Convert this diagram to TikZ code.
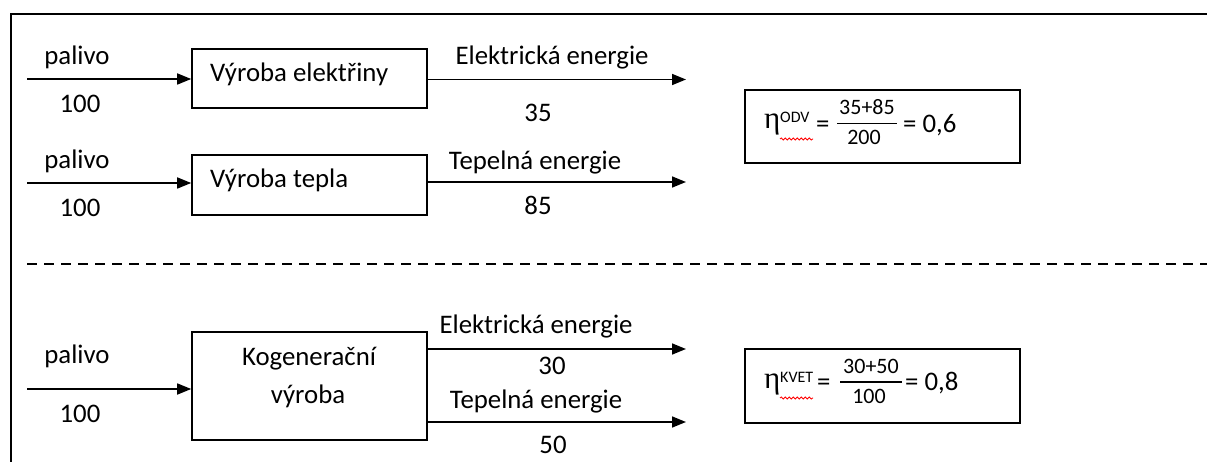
\documentclass[tikz,border=0pt]{standalone}
\usepackage{fontspec}
\setmainfont{Carlito}
\newfontfamily\etafont{Liberation Serif}
\usetikzlibrary{arrows.meta,decorations.pathmorphing}
\begin{document}
\begin{tikzpicture}[x=1pt,y=-1pt,
  txt/.style={inner sep=0pt, font=\fontsize{26.8}{31}\selectfont},
  fr/.style={inner sep=0pt, font=\fontsize{22}{26}\selectfont},
  supx/.style={inner sep=0pt, font=\fontsize{16}{19}\selectfont},
  etas/.style={inner sep=0pt, font=\etafont\fontsize{31}{36}\selectfont},
  box/.style={draw, line width=1.6pt, inner sep=0pt},
  eqbox/.style={draw, line width=2pt, inner sep=0pt},
  arr/.style={line width=1.6pt, -{Triangle[length=14pt,width=11pt]}},
  frameline/.style={line width=2pt},
  sepline/.style={line width=2pt, dash pattern=on 10pt off 7pt},
  wavy/.style={red, line width=0.8pt, decorate, decoration={snake, amplitude=1.1pt, segment length=4pt}}
]
\useasboundingbox (0,0) rectangle (1207,462);
% frame
\draw[frameline] (11,462) -- (11,14) -- (1207,14);
% separator
\coordinate (d1) at (27,264);
\coordinate (d2) at (1207,264);
\draw[sepline] (d1) -- (d2);

% ---- row 1
\node[box, minimum width=235pt, minimum height=59pt] (b1) at (309.5,78.5) {};
\node[txt, anchor=base west] (b1t) at (210,82) {Výroba elektřiny};
\coordinate (s1) at (27,79);
\draw[arr] (s1) -- (s1 -| b1.west);
\node[txt, anchor=base] (p1) at (77,65) {palivo};
\node[txt, anchor=base] (n1) at (80,113) {100};
\coordinate (e1) at (686,79.5);
\draw[arr] (e1 -| b1.east) -- (e1);
\node[txt, anchor=base] (l1) at (552,65) {Elektrická energie};
\node[txt, anchor=base] (v1) at (538,122) {35};

% ---- row 2
\node[box, minimum width=235pt, minimum height=60pt] (b2) at (309.5,185) {};
\node[txt, anchor=base west] (b2t) at (210,188) {Výroba tepla};
\coordinate (s2) at (27,183);
\draw[arr] (s2) -- (s2 -| b2.west);
\node[txt, anchor=base] (p2) at (77,169) {palivo};
\node[txt, anchor=base] (n2) at (80,217) {100};
\coordinate (e2) at (686,182);
\draw[arr] (e2 -| b2.east) -- (e2);
\node[txt, anchor=base] (l2) at (535,170) {Tepelná energie};
\node[txt, anchor=base] (v2) at (538,215) {85};

% ---- cogeneration
\node[box, minimum width=235pt, minimum height=108pt] (b3) at (309.5,386) {};
\node[txt, anchor=base] (b3t1) at (309,365) {Kogenerační};
\node[txt, anchor=base] (b3t2) at (308,403) {výroba};
\coordinate (s3) at (27,389);
\draw[arr] (s3) -- (s3 -| b3.west);
\node[txt, anchor=base] (p3) at (77,363) {palivo};
\node[txt, anchor=base] (n3) at (80,422) {100};
\coordinate (e3a) at (686,349);
\coordinate (e3b) at (686,422);
\draw[arr] (e3a -| b3.east) -- (e3a);
\draw[arr] (e3b -| b3.east) -- (e3b);
\node[txt, anchor=base] (l3) at (536,333) {Elektrická energie};
\node[txt, anchor=base] (v3) at (552,374) {30};
\node[txt, anchor=base] (l4) at (536,408) {Tepelná energie};
\node[txt, anchor=base] (v4) at (553,453) {50};

% ---- equation 1
\node[eqbox, minimum width=275pt, minimum height=73pt] (eb1) at (882.5,126.5) {};
\node[etas, anchor=base west] (eta1) at (764,129) {η};
\node[supx, anchor=base west] (sup1) at (780,123) {ODV};
\draw[wavy] (780,139) -- (813,139);
\node[txt, anchor=base west] (eq1a) at (816,133) {=};
\node[fr, anchor=base] (num1) at (867,115) {35+85};
\draw[line width=1.3pt] (837,123.5) -- (897,123.5);
\node[fr, anchor=base] (den1) at (864,145) {200};
\node[txt, anchor=base west] (res1) at (903,133) {= 0,6};

% ---- equation 2
\node[eqbox, minimum width=275pt, minimum height=74pt] (eb2) at (882.5,386) {};
\node[etas, anchor=base west] (eta2) at (764,388) {η};
\node[supx, anchor=base west] (sup2) at (780,382) {KVET};
\draw[wavy] (780,398) -- (813,398);
\node[txt, anchor=base west] (eq2a) at (817,390) {=};
\node[fr, anchor=base] (num2) at (871,373) {30+50};
\draw[line width=1.3pt] (840,382) -- (902,382);
\node[fr, anchor=base] (den2) at (869,403) {100};
\node[txt, anchor=base west] (res2) at (905,390) {= 0,8};
\end{tikzpicture}
\end{document}
